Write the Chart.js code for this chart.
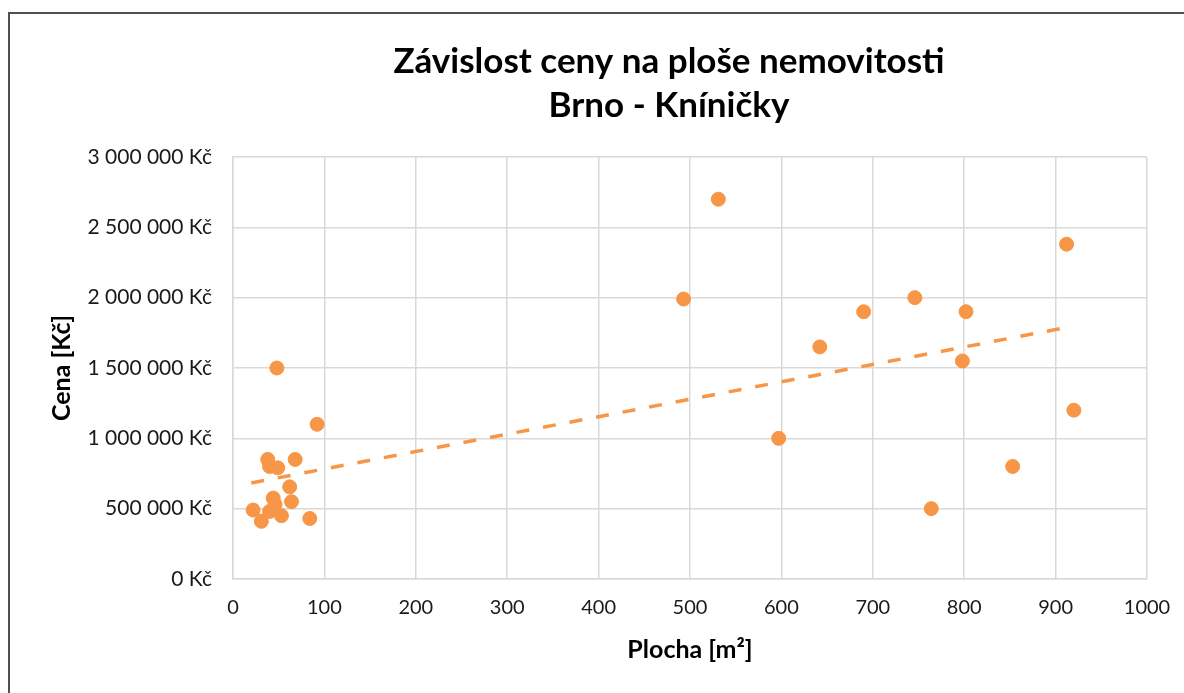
<!DOCTYPE html>
<html>
<head>
<meta charset="utf-8">
<script src="https://cdn.jsdelivr.net/npm/chart.js@4.4.1/dist/chart.umd.min.js"></script>
<style>
  html, body { margin: 0; padding: 0; background: #fff; overflow: hidden; }
  #wrap { position: relative; width: 1184px; height: 693px; }
  #frame { position: absolute; left: 8px; top: 12px; width: 1300px; height: 800px;
           border: 2px solid #505050; box-sizing: border-box; }
  canvas { position: absolute; left: 0; top: 0; }
</style>
</head>
<body>
<div id="wrap">
  <div id="frame"></div>
  <canvas id="chart" width="1184" height="693"></canvas>
</div>
<script>
// plocha v m2 a cena v Kč
const plocha = [48, 92, 38, 68, 40, 49, 62, 44, 64, 22, 46, 40, 31, 53, 84,
                493, 531, 597, 642, 690, 746, 802, 798, 764, 853, 912, 920];
const cena = [1500000, 1100000, 850000, 850000, 800000, 790000, 655000, 575000, 550000, 490000, 530000, 480000, 410000, 450000, 430000,
              1990000, 2700000, 1000000, 1650000, 1900000, 2000000, 1900000, 1550000, 500000, 800000, 2380000, 1200000];

// lineární trend (koncové body)
const trendX = [20, 911];
const trendY = [683000, 1787000];

const titleLines = ['Závislost ceny na ploše nemovitosti', 'Brno - Kníničky'];
const FONT = "Lato, 'Open Sans', sans-serif";
const ORANGE = '#f79646';
const GRID = '#d9d9d9';

const points = plocha.map((x, i) => ({ x, y: cena[i] }));
const trend = trendX.map((x, i) => ({ x, y: trendY[i] }));

const titlePlugin = {
    id: 'excelTitle',
    afterDraw(chart) {
        const c = chart.ctx;
        c.save();
        c.fillStyle = '#000';
        c.font = 'bold 35px ' + FONT;
        c.textAlign = 'center';
        c.textBaseline = 'middle';
        c.fillText(titleLines[0], 669, 62);
        c.fillText(titleLines[1], 669, 106);
        c.restore();
    }
};

new Chart(document.getElementById('chart'), {
    type: 'scatter',
    data: {
        datasets: [
            {
                label: 'Cena',
                data: points,
                backgroundColor: ORANGE,
                borderColor: ORANGE,
                pointRadius: 7,
                pointHoverRadius: 7,
                order: 1
            },
            {
                label: 'Trend',
                type: 'line',
                data: trend,
                showLine: true,
                borderColor: ORANGE,
                borderWidth: 3.5,
                borderDash: [13, 14],
                pointRadius: 0,
                fill: false,
                order: 2
            }
        ]
    },
    options: {
        responsive: false,
        animation: false,
        events: [],
        layout: { padding: { top: 157, right: 37, left: 43, bottom: 24 } },
        plugins: { legend: { display: false }, title: { display: false }, tooltip: { enabled: false } },
        scales: {
            x: {
                type: 'linear',
                min: 0, max: 1000,
                ticks: { stepSize: 100, color: '#1a1a1a', font: { family: FONT, size: 20 }, padding: 17,
                         callback: v => String(v) },
                grid: { color: GRID, lineWidth: 1.5, drawTicks: false },
                border: { color: GRID, width: 1.5 },
                title: { display: true, text: 'Plocha [m²]', color: '#000',
                         font: { family: FONT, size: 25, weight: 'bold' }, padding: { top: 4 } },
                afterFit: s => { s.height = 693 - 24 - 579; s.paddingLeft = 0; s.paddingRight = 0; }
            },
            y: {
                min: 0, max: 3000000,
                ticks: {
                    stepSize: 500000, color: '#1a1a1a', font: { family: FONT, size: 21 }, padding: 21,
                    callback: v => (v === 0 ? '0' : v.toLocaleString('cs-CZ').replace(/\s/g, ' ')) + ' Kč'
                },
                grid: { color: GRID, lineWidth: 1.5, drawTicks: false },
                border: { color: GRID, width: 1.5 },
                title: { display: true, text: 'Cena [Kč]', color: '#000',
                         font: { family: FONT, size: 25, weight: 'bold' }, padding: { bottom: 4 } },
                afterFit: s => { s.width = 233 - 43; s.paddingTop = 0; s.paddingBottom = 0; }
            }
        }
    },
    plugins: [titlePlugin]
});
</script>
</body>
</html>
